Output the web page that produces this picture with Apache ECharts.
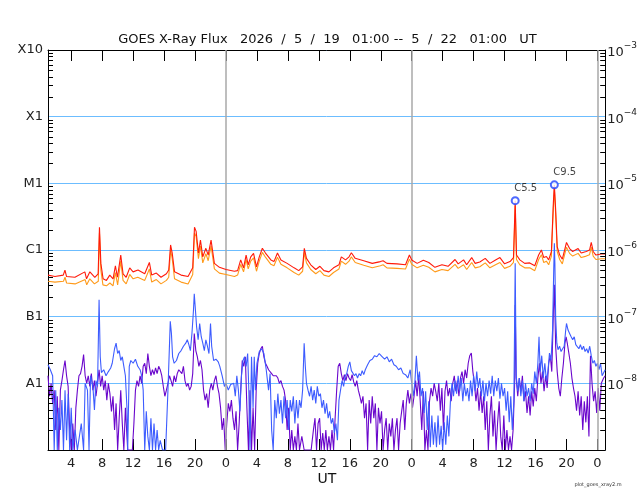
<!DOCTYPE html>
<html>
<head>
<meta charset="utf-8">
<script src="https://cdn.jsdelivr.net/npm/echarts@6.0.0/dist/echarts.min.js"></script>
<style>
html,body{margin:0;padding:0;background:#fff;}
#chart{width:640px;height:500px;}
</style>
</head>
<body>
<div id="chart"></div>
<script>
// ---- time axis (hours since 2026/5/19 00:00 UT) ----
var tStart = 1, tEnd = 73;
var xTickHours = [4,8,12,16,20,24,28,32,36,40,44,48,52,56,60,64,68,72];
var dayBoundaries = [24,48,72];

// ---- flux axis ----
var yTickValues = [1e-3,1e-4,1e-5,1e-6,1e-7,1e-8,1e-9];
var yTickNames = ['X10','X1','M1','C1','B1','A1',''];
var yTickExps = ['-3','-4','-5','-6','-7','-8',''];
var minorMultipliers = [2,3,4,5,6,7,8,9];
var minorDecades = [1e-9,1e-8,1e-7,1e-6,1e-5,1e-4];

// ---- flare annotations ----
var flarePeaks = [[61.37,5.5e-6],[66.43,9.5e-6]];
var flareNames = ['C5.5','C9.5'];

// ---- long channel (primary, red) ----
var redData = [[1,4.2e-7],[1.9,4.0e-7],[2.97,4.2e-7],[3.19,5.0e-7],[3.4,4.0e-7],[4.48,3.9e-7],[5.76,4.7e-7],[5.98,3.7e-7],[6.41,4.7e-7],[7.05,3.9e-7],[7.48,4.4e-7],[7.65,2.2e-6],[7.83,6.3e-7],[8.12,3.7e-7],[8.55,3.5e-7],[8.98,4.2e-7],[9.41,3.7e-7],[9.71,5.8e-7],[9.97,3.9e-7],[10.4,8.4e-7],[10.7,4.4e-7],[11.1,3.9e-7],[11.56,5.4e-7],[11.99,4.7e-7],[12.63,5.0e-7],[13.5,4.4e-7],[14.1,6.5e-7],[14.4,4.2e-7],[15.0,4.5e-7],[15.6,3.9e-7],[16.3,4.4e-7],[16.6,5.0e-7],[16.84,1.19e-6],[17.05,9.0e-7],[17.35,4.7e-7],[18.2,4.2e-7],[19.1,4.0e-7],[19.7,5.4e-7],[19.93,2.2e-6],[20.14,1.9e-6],[20.44,9.0e-7],[20.7,1.41e-6],[21.0,7.9e-7],[21.4,1.06e-6],[21.7,8.4e-7],[22.07,1.41e-6],[22.5,6.3e-7],[23.15,5.5e-7],[24.0,5.1e-7],[25.08,4.8e-7],
[25.5,4.9e-7],[25.9,7.1e-7],[26.27,5.4e-7],[26.6,8.4e-7],[26.87,6.0e-7],[27.2,7.9e-7],[27.56,8.9e-7],[27.94,5.6e-7],[28.3,7.9e-7],[28.7,1.06e-6],[29.1,9.0e-7],[29.8,7.1e-7],[30.2,6.7e-7],[30.65,9.0e-7],[31.1,7.1e-7],[31.9,6.3e-7],[32.8,5.4e-7],[33.4,4.9e-7],[33.9,5.6e-7],[34.12,1.06e-6],[34.4,7.5e-7],[34.95,6.0e-7],[35.6,5.1e-7],[36.14,5.7e-7],[36.66,4.9e-7],[37.3,4.7e-7],[37.9,5.4e-7],[38.6,6.0e-7],[38.9,7.9e-7],[39.45,7.1e-7],[39.9,7.9e-7],[40.2,9.1e-7],[40.7,7.5e-7],[41.8,6.9e-7],[42.9,6.3e-7],[43.95,6.7e-7],[44.3,6.9e-7],[44.8,6.3e-7],[46.1,6.2e-7],[47.2,6.0e-7],[47.7,8.4e-7],[48.0,7.1e-7],[48.7,6.3e-7],
[48.9,6.2e-7],[49.5,7.0e-7],[50.2,6.5e-7],[51.0,5.5e-7],[51.9,6.0e-7],[52.7,5.7e-7],[53.6,7.2e-7],[54.0,6.2e-7],[54.7,7.1e-7],[55.1,6.0e-7],[55.75,7.7e-7],[56.2,6.3e-7],[56.8,6.6e-7],[57.5,7.5e-7],[58.1,6.3e-7],[58.83,7.1e-7],[59.4,7.7e-7],[60.0,6.2e-7],[60.7,6.7e-7],[61.15,7.7e-7],[61.37,5.5e-6],[61.54,8.4e-7],[61.97,7.1e-7],[62.6,6.3e-7],[63.25,6.4e-7],[63.9,5.8e-7],[64.4,8.4e-7],[64.76,1.0e-6],[65.06,7.7e-7],[65.4,8.0e-7],[65.7,7.1e-7],[66.05,9.5e-7],[66.3,5.0e-6],[66.43,9.5e-6],[66.6,4.0e-6],[66.8,1.12e-6],[67.12,8.4e-7],[67.46,7.3e-7],[67.76,1.0e-6],[68.0,1.3e-6],[68.4,1.05e-6],[68.8,9.5e-7],[69.5,1.05e-6],[69.9,9.0e-7],[70.55,9.5e-7],[70.98,1.0e-6],[71.2,1.3e-6],[71.45,9.5e-7],[71.8,8.4e-7],[72.5,8.7e-7],[73,8.7e-7]];

// ---- long channel (secondary, orange) ----
var orangeData = [[1,3.4e-7],[1.9,3.3e-7],[3.0,3.4e-7],[3.2,3.9e-7],[3.4,3.2e-7],[4.5,3.1e-7],[5.8,3.6e-7],[6.0,3.0e-7],[6.4,3.7e-7],[7.0,3.1e-7],[7.5,3.4e-7],[7.65,1.8e-6],[7.83,5.0e-7],[8.1,3.0e-7],[8.55,2.9e-7],[9.0,3.2e-7],[9.4,2.9e-7],[9.7,4.6e-7],[10.0,3.0e-7],[10.4,6.8e-7],[10.7,3.5e-7],[11.1,3.1e-7],[11.56,4.3e-7],[12.0,3.7e-7],[12.6,3.9e-7],[13.5,3.5e-7],[14.1,5.2e-7],[14.4,3.3e-7],[15.0,3.6e-7],[15.6,3.1e-7],[16.3,3.5e-7],[16.6,3.9e-7],[16.84,1.0e-6],[17.05,7.4e-7],[17.35,3.7e-7],[18.2,3.3e-7],[19.1,3.1e-7],[19.7,4.3e-7],[19.93,1.8e-6],[20.14,1.6e-6],[20.44,7.4e-7],[20.7,1.15e-6],[21.0,6.4e-7],[21.4,8.8e-7],[21.7,6.9e-7],[22.07,1.15e-6],[22.5,5.2e-7],[23.15,4.5e-7],[24.0,4.3e-7],[25.1,4.0e-7],
[25.5,4.2e-7],[25.9,6.1e-7],[26.27,4.7e-7],[26.6,7.2e-7],[26.87,5.2e-7],[27.2,6.8e-7],[27.56,7.6e-7],[27.94,4.8e-7],[28.3,6.8e-7],[28.7,9.2e-7],[29.1,7.8e-7],[29.8,6.1e-7],[30.2,5.8e-7],[30.65,7.8e-7],[31.1,6.1e-7],[31.9,5.4e-7],[32.8,4.6e-7],[33.4,4.2e-7],[33.9,4.8e-7],[34.12,9.2e-7],[34.4,6.4e-7],[34.95,5.1e-7],[35.6,4.4e-7],[36.14,4.9e-7],[36.66,4.2e-7],[37.3,4.0e-7],[37.9,4.6e-7],[38.6,5.2e-7],[38.9,6.8e-7],[39.45,6.1e-7],[39.9,6.8e-7],[40.2,7.9e-7],[40.7,6.5e-7],[41.8,5.9e-7],[42.9,5.4e-7],[43.95,5.8e-7],[44.3,6.0e-7],[44.8,5.4e-7],[46.1,5.3e-7],[47.2,5.2e-7],[47.7,7.3e-7],[48.0,6.1e-7],[48.7,5.4e-7],
[49.5,5.9e-7],[50.2,5.5e-7],[51.0,4.7e-7],[51.9,5.1e-7],[52.7,4.9e-7],[53.6,6.1e-7],[54.0,5.3e-7],[54.7,6.0e-7],[55.1,5.1e-7],[55.75,6.5e-7],[56.2,5.4e-7],[56.8,5.6e-7],[57.5,6.4e-7],[58.1,5.4e-7],[58.83,6.0e-7],[59.4,6.5e-7],[60.0,5.3e-7],[60.7,5.7e-7],[61.15,6.5e-7],[61.37,4.6e-6],[61.54,7.2e-7],[61.97,6.0e-7],[62.6,5.4e-7],[63.25,5.4e-7],[63.9,4.9e-7],[64.4,7.2e-7],[64.76,8.5e-7],[65.06,6.5e-7],[65.4,6.8e-7],[65.7,6.0e-7],[66.05,8.1e-7],[66.3,4.3e-6],[66.43,8.2e-6],[66.6,3.4e-6],[66.8,9.5e-7],[67.12,7.2e-7],[67.46,6.2e-7],[67.76,8.5e-7],[68.0,1.1e-6],[68.4,8.9e-7],[68.8,8.1e-7],[69.5,8.9e-7],[69.9,7.7e-7],[70.55,8.1e-7],[70.98,8.5e-7],[71.2,1.1e-6],[71.45,8.1e-7],[71.8,7.2e-7],[72.5,7.4e-7],[73,7.4e-7]];

// ---- short channel (primary, blue) ----
var blueData = [[1.0,1.9e-8],[1.3,1.6e-8],[1.6,1.3e-8],[1.8,1e-9],[2.0,7.9e-9],[2.2,1e-9],[2.4,4.3e-9],[2.6,2.0e-9],[2.8,5.6e-9],[3.0,1e-9],[3.2,7.9e-9],[3.4,1.4e-9],[3.6,7e-9],[3.8,1e-9],[4.0,4.3e-9],[4.2,1e-9],[4.5,2e-9],[4.8,1e-9],[5.0,1e-9],[5.3,2.5e-9],[5.6,1e-9],[5.8,1e-8],[6.1,7.9e-9],[6.3,1e-9],[6.5,1.3e-8],[6.8,9e-9],[7.0,4e-9],[7.2,1.1e-8],[7.4,9e-9],[7.6,1.8e-7],[7.75,2.5e-8],[7.9,1.45e-8],[8.2,1.6e-8],[8.5,1.3e-8],[8.8,1.5e-8],[9.1,1.7e-8],[9.3,2.0e-8],[9.6,3.3e-8],[9.8,4.0e-8],[10.0,2.8e-8],[10.2,3.1e-8],[10.4,2.2e-8],[10.6,2.5e-8],[10.8,1.8e-8],[11.0,1.3e-8],[11.2,4.3e-9],[11.3,1e-9],[11.5,1.8e-8],[11.7,2.2e-8],[12.0,2.0e-8],[12.3,2.3e-8],[12.6,1.8e-8],[12.9,1.6e-8],[13.1,1.3e-8],[13.3,7.9e-9],[13.5,1e-9],[13.7,3.8e-9],[13.9,1.6e-9],[14.1,1e-9],[14.3,3e-9],[14.5,1e-9],[14.7,2.5e-9],[14.9,1e-9],[15.1,2e-9],[15.3,1e-9],[15.5,1.4e-9],[15.8,1e-9],[16.2,1e-9],[16.5,7.9e-9],[16.8,8.5e-8],[16.95,5.6e-8],[17.1,2.5e-8],[17.3,2e-8],[17.6,2.2e-8],[17.9,2.8e-8],[18.2,3.1e-8],[18.5,3.6e-8],[18.8,4.0e-8],[19.0,4.5e-8],[19.2,3.8e-8],[19.4,3.1e-8],[19.6,5.6e-8],[19.8,1.26e-7],[19.9,2.2e-7],[20.05,1.26e-7],[20.2,7.1e-8],[20.4,4.5e-8],[20.6,7.9e-8],[20.8,5e-8],[21.0,4e-8],[21.2,3.1e-8],[21.4,4.5e-8],[21.6,3.6e-8],[21.8,2.8e-8],[22.0,7.9e-8],[22.15,3.6e-8],[22.4,2.2e-8],[22.7,2.3e-8],[23.0,2.1e-8],[23.2,1.8e-8],[23.5,1.3e-8],[23.8,9e-9],[24.0,1e-8],[24.3,7.9e-9],[24.6,9.6e-9],
[25.0,1e-8],[25.2,6.4e-9],[25.4,1.3e-8],[25.6,7.9e-9],[25.8,3.8e-9],[26.0,1.3e-8],[26.2,2.2e-8],[26.4,2.5e-8],[26.6,1.8e-8],[26.8,2.8e-8],[26.95,7.9e-9],[27.1,1e-9],[27.3,2.5e-8],[27.5,4.3e-9],[27.65,2.5e-8],[27.8,7.9e-9],[28.0,2e-8],[28.3,3e-8],[28.6,3.3e-8],[28.9,2.8e-8],[29.2,1.6e-8],[29.5,7.9e-9],[29.7,1.4e-8],[29.9,2e-9],[30.1,1e-9],[30.3,5.6e-9],[30.5,3e-9],[30.7,7e-9],[30.9,3.5e-9],[31.1,5.6e-9],[31.3,2.5e-9],[31.5,6.4e-9],[31.7,3e-9],[31.9,5.6e-9],[32.1,2e-9],[32.3,5.6e-9],[32.5,3.8e-9],[32.7,6.4e-9],[32.9,2.5e-9],[33.1,5.6e-9],[33.3,3e-9],[33.5,5.6e-9],[33.7,4.3e-9],[33.9,7.9e-9],[34.1,4e-8],[34.25,1.8e-8],[34.4,1e-8],[34.6,7.9e-9],[34.8,6.4e-9],[35.0,9e-9],[35.2,5.6e-9],[35.4,7.9e-9],[35.6,5e-9],[35.8,9e-9],[36.0,6.4e-9],[36.2,7e-9],[36.4,4.3e-9],[36.6,5.6e-9],[36.8,3.5e-9],[37.0,5e-9],[37.2,3e-9],[37.4,3.8e-9],[37.6,2.5e-9],[37.8,3e-9],[38.0,1.8e-9],[38.2,2.5e-9],[38.4,1.4e-9],[38.6,5.6e-9],[38.8,7.9e-9],[39.0,1.1e-8],[39.2,9e-9],[39.4,1.3e-8],[39.6,1.4e-8],[39.8,1.8e-8],[40.0,2.1e-8],[40.2,1.55e-8],[40.4,1.6e-8],[40.6,1.3e-8],[40.8,1.4e-8],[41.0,1.2e-8],[41.2,1.4e-8],[41.4,1.3e-8],[41.6,1.55e-8],[41.8,1.35e-8],[42.0,1.6e-8],[42.3,1.9e-8],[42.6,2.2e-8],[42.9,2.3e-8],[43.2,2.6e-8],[43.5,2.5e-8],[43.8,2.8e-8],[44.0,3.0e-8],[44.2,2.5e-8],[44.5,2.3e-8],[44.8,2.5e-8],[45.1,2.1e-8],[45.4,2.3e-8],[45.7,1.9e-8],[46.0,1.8e-8],[46.3,1.6e-8],[46.6,1.7e-8],[46.9,1.4e-8],[47.2,1.35e-8],[47.5,1.2e-8],[47.8,1.6e-8],[48.0,1e-8],[48.2,6.4e-9],[48.4,1e-8],
[48.6,2.6e-8],[48.8,1.1e-8],[49.0,1.5e-8],[49.2,6.4e-9],[49.4,8.5e-9],[49.6,3.6e-9],[49.8,7.6e-9],[50.0,2e-9],[50.2,5.4e-9],[50.4,1.1e-9],[50.6,3.3e-9],[50.8,1.2e-9],[51.0,2.6e-9],[51.2,1.1e-9],[51.4,3.3e-9],[51.6,1.2e-9],[51.8,2.3e-9],[52.0,1e-9],[52.2,2.6e-9],[52.4,1.2e-9],[52.6,3.3e-9],[52.8,1.6e-9],[53.0,5.4e-9],[53.2,1.0e-8],[53.4,6.4e-9],[53.6,1.1e-8],[53.8,7e-9],[54.0,1.3e-8],[54.2,7.6e-9],[54.4,1.2e-8],[54.6,5.4e-9],[54.8,1e-8],[55.0,6.4e-9],[55.2,8.5e-9],[55.4,5.4e-9],[55.6,1.1e-8],[55.8,6.4e-9],[56.0,1.3e-8],[56.2,7.6e-9],[56.4,1.5e-8],[56.6,8.5e-9],[56.8,1.2e-8],[57.0,6.4e-9],[57.2,1.1e-8],[57.4,5.4e-9],[57.6,1e-8],[57.8,6.4e-9],[58.0,1.1e-8],[58.2,7e-9],[58.4,1.3e-8],[58.6,6.4e-9],[58.8,1.1e-8],[59.0,7.6e-9],[59.2,1.2e-8],[59.4,5.9e-9],[59.6,1e-8],[59.8,6.4e-9],[60.0,8.5e-9],[60.2,3.9e-9],[60.4,7.6e-9],[60.6,2.6e-9],[60.8,6.4e-9],[61.0,2e-9],[61.2,5.4e-9],[61.37,6.3e-7],[61.5,1.3e-8],[61.7,7.6e-9],[61.9,1.2e-8],[62.1,6.4e-9],[62.3,1.1e-8],[62.5,5.4e-9],[62.7,1e-8],[62.9,6.4e-9],[63.1,8.5e-9],[63.3,5.4e-9],[63.5,1e-8],[63.7,7e-9],[63.9,1.5e-8],[64.1,1e-8],[64.3,2e-8],[64.45,5e-8],[64.6,1.5e-8],[64.8,2.6e-8],[65.0,1.2e-8],[65.2,2e-8],[65.4,1.1e-8],[65.6,1.5e-8],[65.8,2.85e-8],[66.0,2.2e-8],[66.2,6.3e-8],[66.35,5e-7],[66.43,1.26e-6],[66.5,6.3e-7],[66.6,1e-7],[66.75,4.0e-8],[66.9,3.2e-8],[67.1,3.6e-8],[67.3,3.0e-8],[67.5,3.3e-8],[67.7,3.6e-8],[67.9,6.3e-8],[68.0,7.9e-8],[68.2,6.3e-8],[68.4,5.6e-8],[68.6,5.0e-8],[68.8,4.5e-8],[69.0,5e-8],[69.2,3.8e-8],[69.4,4e-8],[69.6,3.3e-8],[69.8,3.8e-8],[70.0,3.2e-8],[70.2,3.6e-8],[70.4,3.0e-8],[70.6,3.3e-8],[70.8,2.85e-8],[71.0,3.6e-8],[71.2,2.6e-8],[71.4,2e-8],[71.6,2.2e-8],[71.8,1.8e-8],[72.0,2e-8],[72.2,1.6e-8],[72.4,2e-8],[72.6,1.3e-8],[73,1.6e-8]];

// ---- short channel (secondary, purple) ----
var purpleData = [[1.0,1.3e-8],[1.2,6.4e-9],[1.4,1e-8],[1.6,5e-9],[1.8,7.9e-9],[2.0,2e-9],[2.2,6.4e-9],[2.4,1e-9],[2.6,7.9e-9],[2.8,1.1e-8],[3.0,1.6e-8],[3.2,2.2e-8],[3.4,1.3e-8],[3.6,9e-9],[3.8,2e-9],[4.0,1e-9],[4.2,2.5e-9],[4.4,1e-9],[4.6,4.3e-9],[4.8,7.9e-9],[5.0,1.3e-8],[5.2,1.4e-8],[5.4,1.8e-8],[5.6,2.7e-8],[5.8,1.3e-8],[6.0,1e-8],[6.2,1.3e-8],[6.4,9e-9],[6.6,1.4e-8],[6.8,7.9e-9],[7.0,1.1e-8],[7.2,6.4e-9],[7.4,1e-8],[7.6,1.6e-8],[7.8,9e-9],[8.0,1.3e-8],[8.2,7.9e-9],[8.4,1.1e-8],[8.6,5.6e-9],[8.8,1e-8],[9.0,7e-9],[9.2,3.8e-9],[9.4,6.4e-9],[9.6,2e-9],[9.8,5e-9],[10.0,1e-9],[10.2,3e-9],[10.4,7.9e-9],[10.6,2.5e-9],[10.8,1e-9],[11.0,4.3e-9],[11.3,1e-9],[11.6,1e-9],[11.9,1e-9],[12.1,2.5e-9],[12.3,7.9e-9],[12.5,1.1e-8],[12.7,9e-9],[12.9,1.3e-8],[13.1,1e-8],[13.3,1.8e-8],[13.5,2e-8],[13.7,1.4e-8],[13.9,2.8e-8],[14.1,1.8e-8],[14.3,1.3e-8],[14.5,1.6e-8],[14.7,1.35e-8],[14.9,1.7e-8],[15.1,1.4e-8],[15.3,1.8e-8],[15.5,1.6e-8],[15.7,1.3e-8],[15.9,9e-9],[16.1,6.4e-9],[16.3,7.9e-9],[16.5,1e-8],[16.7,1.3e-8],[16.9,1.1e-8],[17.1,9e-9],[17.3,1.3e-8],[17.5,1.05e-8],[17.7,1.4e-8],[17.9,1.6e-8],[18.1,1.7e-8],[18.3,1.4e-8],[18.5,1.8e-8],[18.7,1.1e-8],[18.9,9e-9],[19.1,1e-8],[19.3,7.9e-9],[19.5,9e-9],[19.7,1.4e-8],[19.9,5.6e-8],[20.1,3.1e-8],[20.3,2.5e-8],[20.5,1.8e-8],[20.7,2.2e-8],[20.9,1.6e-8],[21.1,7.9e-9],[21.3,5.6e-9],[21.5,7e-9],[21.7,4.3e-9],[21.9,7.9e-9],[22.1,1e-8],[22.3,7.9e-9],[22.5,1.1e-8],[22.7,1.3e-8],[22.9,9e-9],[23.1,7e-9],[23.3,4.3e-9],[23.5,2e-9],[23.7,3e-9],[23.9,1e-9],[24.1,2.5e-9],[24.3,5e-9],[24.5,3.8e-9],[24.7,5.6e-9],
[24.9,3e-9],[25.1,2e-9],[25.3,3.8e-9],[25.5,1e-9],[25.7,2.5e-9],[25.9,7.9e-9],[26.1,2.2e-8],[26.3,1.8e-8],[26.5,2.5e-8],[26.7,4.3e-9],[26.9,1e-9],[27.1,7.9e-9],[27.3,1e-9],[27.5,4.3e-9],[27.7,1e-9],[27.9,7.9e-9],[28.1,2e-8],[28.3,2.8e-8],[28.5,3.3e-8],[28.7,3.6e-8],[28.9,2.5e-8],[29.1,2e-8],[29.3,1.8e-8],[29.5,1.6e-8],[29.7,1.55e-8],[29.9,1.4e-8],[30.1,1.3e-8],[30.3,1.35e-8],[30.5,1.3e-8],[30.7,1.2e-8],[30.9,1e-8],[31.1,1.1e-8],[31.3,9e-9],[31.5,7.9e-9],[31.7,5.6e-9],[31.9,2e-9],[32.1,4.3e-9],[32.3,1e-9],[32.5,2e-9],[32.7,1e-9],[32.9,1.6e-9],[33.1,1e-9],[33.3,2.5e-9],[33.5,1e-9],[33.8,1.6e-9],[34.1,1e-9],[34.4,1e-9],[34.7,1e-9],[35.0,1e-9],[35.3,2e-9],[35.5,3e-9],[35.7,1e-9],[35.9,2.5e-9],[36.1,3e-9],[36.3,1e-9],[36.5,1.8e-9],[36.7,1e-9],[36.9,2e-9],[37.1,1e-9],[37.3,1.6e-9],[37.5,1e-9],[37.7,2e-9],[37.9,1e-9],[38.1,3e-9],[38.3,7.9e-9],[38.5,1.8e-8],[38.7,2e-8],[38.9,1.4e-8],[39.1,1.1e-8],[39.3,1.35e-8],[39.5,1.1e-8],[39.7,1.4e-8],[39.9,1.2e-8],[40.1,1.1e-8],[40.3,1.35e-8],[40.5,1.05e-8],[40.7,9e-9],[40.9,1.1e-8],[41.1,7.9e-9],[41.3,6.4e-9],[41.5,5e-9],[41.7,6.4e-9],[41.9,3e-9],[42.1,5e-9],[42.3,1e-9],[42.5,5.6e-9],[42.7,2.5e-9],[42.9,6.4e-9],[43.1,3e-9],[43.3,5e-9],[43.5,1e-9],[43.7,4.3e-9],[43.9,2.5e-9],[44.1,3.8e-9],[44.3,1e-9],[44.5,2e-9],[44.7,3e-9],[44.9,1e-9],[45.1,2.5e-9],[45.3,1.6e-9],[45.5,3e-9],[45.7,1e-9],[45.9,2e-9],[46.1,3e-9],[46.3,1e-9],[46.5,2.5e-9],[46.7,3.8e-9],[46.9,5.6e-9],[47.1,2e-9],[47.3,5e-9],[47.5,7.9e-9],[47.7,5e-9],[47.9,7e-9],[48.1,4.3e-9],[48.3,6.4e-9],
[48.5,1.1e-8],[48.7,6.4e-9],[48.9,1.3e-8],[49.1,5.4e-9],[49.3,2e-9],[49.5,7.6e-9],[49.7,1e-9],[49.9,2e-9],[50.1,1e-9],[50.3,5.4e-9],[50.5,8.5e-9],[50.7,6.4e-9],[50.9,1e-8],[51.1,7.6e-9],[51.3,5.4e-9],[51.5,1e-8],[51.7,3.9e-9],[51.9,8.5e-9],[52.1,2e-9],[52.3,7.6e-9],[52.5,1.1e-8],[52.7,6.4e-9],[52.9,8.5e-9],[53.1,5.4e-9],[53.3,1e-8],[53.5,1.3e-8],[53.7,7.6e-9],[53.9,1.1e-8],[54.1,6.4e-9],[54.3,1.2e-8],[54.5,1.5e-8],[54.7,1e-8],[54.9,1.6e-8],[55.1,1.2e-8],[55.3,2e-8],[55.5,2.6e-8],[55.7,2.85e-8],[55.9,1.5e-8],[56.1,1e-8],[56.3,5.4e-9],[56.5,8.5e-9],[56.7,3.9e-9],[56.9,7.6e-9],[57.1,3.6e-9],[57.3,6.4e-9],[57.5,2e-9],[57.7,5.4e-9],[57.9,1e-9],[58.1,3.3e-9],[58.3,6.4e-9],[58.5,1.6e-9],[58.7,3.9e-9],[58.9,1e-9],[59.1,2.6e-9],[59.3,5.4e-9],[59.5,1.6e-9],[59.7,1e-9],[59.9,3.3e-9],[60.1,1e-9],[60.3,2e-9],[60.5,1e-9],[60.7,1.6e-9],[60.9,1e-9],[61.1,2e-9],[61.3,1e-8],[61.37,1.5e-7],[61.5,1.2e-8],[61.7,6.4e-9],[61.9,1.2e-8],[62.1,7.6e-9],[62.3,1.3e-8],[62.5,5.4e-9],[62.7,7.6e-9],[62.9,3.6e-9],[63.1,6.4e-9],[63.3,3.3e-9],[63.5,7.6e-9],[63.7,4.5e-9],[63.9,8.5e-9],[64.1,5.4e-9],[64.3,1.2e-8],[64.5,2e-8],[64.7,1e-8],[64.9,1.5e-8],[65.1,7.6e-9],[65.3,1.3e-8],[65.5,8.5e-9],[65.7,2e-8],[65.9,2.6e-8],[66.1,1.5e-8],[66.3,1.1e-7],[66.43,3e-7],[66.6,3.6e-8],[66.8,1.5e-8],[67.0,8.5e-9],[67.2,6.4e-9],[67.4,1.2e-8],[67.6,2e-8],[67.8,4e-8],[67.95,5e-8],[68.1,4e-8],[68.3,2.85e-8],[68.5,2e-8],[68.7,1.2e-8],[68.9,8.5e-9],[69.1,6.4e-9],[69.3,3.9e-9],[69.5,7.6e-9],[69.7,3.3e-9],[69.9,6.4e-9],[70.1,2e-9],[70.3,5.4e-9],[70.5,2.6e-9],[70.7,6.4e-9],[70.9,1.6e-9],[71.1,2.6e-8],[71.3,1e-8],[71.5,5.4e-9],[71.7,7.6e-9],[71.9,3.6e-9],[72.1,8.5e-9],[72.3,3.9e-9],[72.5,1e-8],[72.8,1.2e-8],[73,1.3e-8]];

// ---- colours ----
var COLORS = {red:'#ff1a0a', orange:'#ff9a1a', blue:'#3d5cff', purple:'#6a06cc', grid:'#6cbdff', day:'#a9a9a9', marker:'#2244ff'};
var FONT = 'DejaVu Sans';

var minorTicks = [];
minorDecades.forEach(function(d){ minorMultipliers.forEach(function(m){ minorTicks.push([tStart, d*m]); }); });

function lineSeries(name, data, color, z){
  return {name:name, type:'line', data:data, showSymbol:false, symbol:'none', z:z,
    lineStyle:{color:color, width:1.1}, itemStyle:{color:color}, animation:false, silent:true};
}

var chart = echarts.init(document.getElementById('chart'), null, {renderer:'canvas'});
var option = {
  animation:false,
  backgroundColor:'#ffffff',
  textStyle:{fontFamily:FONT},
  grid:{left:48, right:33, top:50, bottom:50, containLabel:false},
  xAxis:[{
    type:'value', min:tStart, max:tEnd, position:'bottom',
    axisLine:{show:true, lineStyle:{color:'#000', width:1}},
    axisTick:{show:true, inside:true, length:11, customValues:xTickHours, lineStyle:{color:'#000'}},
    axisLabel:{show:true, customValues:xTickHours, margin:7, color:'#222', fontSize:13, fontFamily:FONT,
      formatter:function(v){ return String(Math.round(v) % 24); }},
    splitLine:{show:false}
  },{
    type:'value', min:tStart, max:tEnd, position:'top',
    axisLine:{show:true, lineStyle:{color:'#000', width:1}},
    axisTick:{show:true, inside:true, length:11, customValues:xTickHours, lineStyle:{color:'#000'}},
    axisLabel:{show:false},
    splitLine:{show:false}
  }],
  yAxis:[{
    type:'log', logBase:10, min:1e-9, max:1e-3, interval:1, position:'left',
    axisLine:{show:true, lineStyle:{color:'#000', width:1}},
    axisTick:{show:false},
    axisLabel:{show:true, margin:5, color:'#222', fontSize:13, fontFamily:FONT,
      formatter:function(v){ var i = yTickValues.findIndex(function(t){return Math.abs(Math.log10(t)-Math.log10(v))<0.01;}); return i>=0 ? yTickNames[i] : ''; }},
    splitLine:{show:true, lineStyle:{color:COLORS.grid, width:1}}
  },{
    type:'log', logBase:10, min:1e-9, max:1e-3, interval:1, position:'right',
    axisLine:{show:true, lineStyle:{color:'#000', width:1}},
    axisTick:{show:false},
    axisLabel:{show:true, margin:2, color:'#222', fontFamily:FONT,
      formatter:function(v){ var i = yTickValues.findIndex(function(t){return Math.abs(Math.log10(t)-Math.log10(v))<0.01;}); if(i<0 || !yTickExps[i]) return ''; return '{b|10}{s|' + yTickExps[i].replace('-', '\u2212') + '}'; },
      rich:{b:{fontSize:13, fontFamily:FONT, color:'#222', lineHeight:18, verticalAlign:'bottom'}, s:{fontSize:9, fontFamily:FONT, color:'#222', lineHeight:18, verticalAlign:'top', padding:[0,0,6,0]}}},
    splitLine:{show:false}
  }],
  series:[
    {name:'days', type:'line', data:[], z:1, silent:true,
      markLine:{silent:true, symbol:['none','none'], animation:false, label:{show:false},
        lineStyle:{color:COLORS.day, width:1.5, type:'solid'},
        data:dayBoundaries.map(function(d){return {xAxis:d};})}},
    {name:'minorTicks', type:'custom', data:minorTicks, z:20, silent:true, clip:false,
      encode:{x:0, y:1},
      renderItem:function(params, api){
        var v = api.value(1);
        var pL = api.coord([tStart, v]);
        var pR = api.coord([tEnd, v]);
        return {type:'group', children:[
          {type:'line', shape:{x1:pL[0], y1:Math.round(pL[1])+0.5, x2:pL[0]+5, y2:Math.round(pL[1])+0.5}, style:{stroke:'#000', lineWidth:1}},
          {type:'line', shape:{x1:pR[0]-5, y1:Math.round(pR[1])+0.5, x2:pR[0], y2:Math.round(pR[1])+0.5}, style:{stroke:'#000', lineWidth:1}}
        ]};
      }},
    lineSeries('Short secondary', purpleData, COLORS.purple, 3),
    lineSeries('Short primary', blueData, COLORS.blue, 4),
    lineSeries('Long secondary', orangeData, COLORS.orange, 5),
    lineSeries('Long primary', redData, COLORS.red, 6),
    {name:'flares', type:'scatter', z:10, silent:true,
      data:flarePeaks.map(function(p,i){return {value:p, name:flareNames[i]};}),
      symbol:'emptyCircle', symbolSize:7,
      itemStyle:{color:COLORS.marker, borderColor:COLORS.marker, borderWidth:1.2},
      label:{show:true, position:'top', distance:3, align:'left', offset:[-1,0], formatter:'{b}', fontSize:10, color:'#111', fontFamily:FONT}}
  ],
  graphic:[
    {type:'text', x:327.5, y:40, style:{text:'GOES X-Ray Flux   2026  /  5  /  19   01:00 --  5  /  22   01:00   UT', font:'13px "DejaVu Sans"', fill:'#111', textAlign:'center', textVerticalAlign:'middle'}},
    {type:'text', x:327, y:479, style:{text:'UT', font:'14px "DejaVu Sans"', fill:'#111', textAlign:'center', textVerticalAlign:'middle'}},
    {type:'text', x:598, y:485, style:{text:'plot_goes_xray2.m', font:'5px "DejaVu Sans"', fill:'#333', textAlign:'center', textVerticalAlign:'middle'}}
  ]
};
chart.setOption(option);
</script>
</body>
</html>
